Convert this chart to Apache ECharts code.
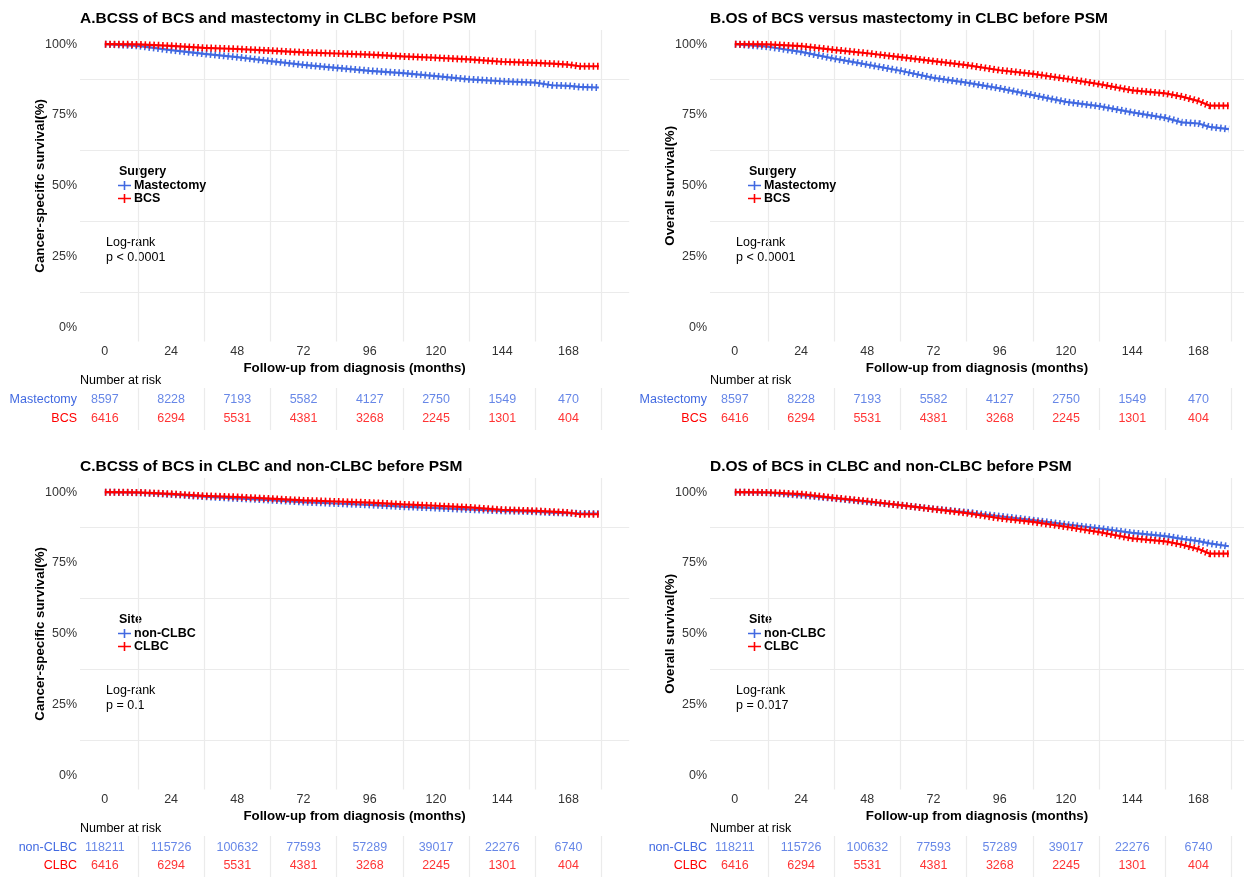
<!DOCTYPE html>
<html><head><meta charset="utf-8">
<script src="https://cdn.jsdelivr.net/npm/echarts@6/dist/echarts.min.js"></script>
<style>html,body{margin:0;padding:0;background:#fff}#c{width:1244px;height:877px}</style>
</head><body><div id="c"></div>
<script>
// ---- data ----
const timePts = [0, 12, 24, 36, 48, 60, 72, 84, 96, 108, 120, 132, 144, 156, 162, 168, 172, 179];
const clbcBcss    = [100, 99.9, 99.4, 98.7, 98.3, 97.7, 97.1, 96.7, 96.3, 95.7, 95.2, 94.6, 93.8, 93.4, 93.1, 92.8, 92.2, 92.2];
const mastBcss    = [100, 99.4, 97.9, 96.6, 95.4, 94.0, 92.7, 91.6, 90.6, 89.8, 88.7, 87.6, 86.9, 86.4, 85.5, 85.3, 84.9, 84.7];
const nonClbcBcss = [100, 99.8, 99.2, 98.4, 97.8, 97.2, 96.5, 96.0, 95.5, 94.9, 94.4, 93.9, 93.4, 93.1, 92.8, 92.6, 92.5, 92.4];
const clbcOs      = [100, 99.9, 99.3, 98.0, 96.8, 95.4, 94.0, 92.6, 90.8, 89.5, 87.8, 85.9, 83.7, 82.6, 81.5, 79.9, 78.3, 78.3];
const mastOs      = [100, 99.1, 97.3, 94.9, 92.8, 90.6, 88.1, 86.4, 84.4, 82.0, 79.6, 78.1, 75.9, 74.0, 72.4, 72.0, 70.8, 70.0];
const nonClbcOs   = [100, 99.8, 98.9, 97.8, 96.6, 95.4, 94.1, 92.9, 91.5, 90.1, 88.6, 87.2, 85.6, 84.5, 83.5, 82.7, 81.9, 80.9];

const riskTimes   = [0, 24, 48, 72, 96, 120, 144, 168];
const mastRisk    = [8597, 8228, 7193, 5582, 4127, 2750, 1549, 470];
const bcsRisk     = [6416, 6294, 5531, 4381, 3268, 2245, 1301, 404];
const nonClbcRisk = [118211, 115726, 100632, 77593, 57289, 39017, 22276, 6740];
const clbcRisk    = [6416, 6294, 5531, 4381, 3268, 2245, 1301, 404];

const gridTimes   = [12, 36, 60, 84, 108, 132, 156, 180];
const yTickVals   = [0, 25, 50, 75, 100];
const yGridVals   = [12.5, 37.5, 62.5, 87.5];

const panelTitles = ['A.BCSS of BCS and mastectomy in CLBC before PSM', 'B.OS of BCS versus mastectomy in CLBC before PSM',
                     'C.BCSS of BCS in CLBC and non-CLBC before PSM', 'D.OS of BCS in CLBC and non-CLBC before PSM'];
const yTitles     = ['Cancer-specific survival(%)', 'Overall survival(%)', 'Cancer-specific survival(%)', 'Overall survival(%)'];
const legendTitles = ['Surgery', 'Surgery', 'Site', 'Site'];
const groupNames  = [['Mastectomy', 'BCS'], ['Mastectomy', 'BCS'], ['non-CLBC', 'CLBC'], ['non-CLBC', 'CLBC']];
const pValues     = ['p < 0.0001', 'p < 0.0001', 'p = 0.1', 'p = 0.017'];
const curveSets   = [[mastBcss, clbcBcss], [mastOs, clbcOs], [nonClbcBcss, clbcBcss], [nonClbcOs, clbcOs]];
const riskSets    = [[mastRisk, bcsRisk], [mastRisk, bcsRisk], [nonClbcRisk, clbcRisk], [nonClbcRisk, clbcRisk]];
const xTitle = 'Follow-up from diagnosis (months)';
const riskTitle = 'Number at risk';
const testName = 'Log-rank';

// ---- styling / layout ----
const COLORS = ['#4169E1', '#FF0000'];
const FONT = '"Liberation Sans", Arial, sans-serif';
const GRIDC = '#ebebeb';
const DX = [0, 630, 0, 630], DY = [0, 0, 448, 448];
const X0 = 80, PT = 30, PH = 311.6, RT = 388, RH = 42;
const PXM = 2.76;              // pixels per month
const XMIN = -9;
const PWS = [549.2, 534, 549.2, 534];

const grids = [], xAxes = [], yAxes = [], series = [], legends = [], graphics = [];
const ICON = 'path://M0,4h13v1.6h-13z M5.7,0.3h1.6v9h-1.6z';

for (let i = 0; i < 4; i++) {
  const dx = DX[i], dy = DY[i];
  const PW = PWS[i];
  const XMAX = XMIN + PW / PXM;
  const g = grids.length;
  grids.push({ left: X0 + dx, top: PT + dy, width: PW, height: PH });
  grids.push({ left: X0 + dx, top: RT + dy, width: PW, height: RH });
  xAxes.push({
    gridIndex: g, type: 'value', min: XMIN, max: XMAX,
    axisLine: { show: false },
    axisTick: { show: false, customValues: gridTimes },
    axisLabel: { customValues: riskTimes, margin: 3, fontSize: 12.5, color: '#333', fontFamily: FONT },
    splitLine: { show: true, lineStyle: { color: GRIDC, width: 1.2 } },
    name: xTitle, nameLocation: 'middle', nameGap: 20, nameMoveOverlap: false,
    nameTextStyle: { fontSize: 13.3, fontWeight: 'bold', color: '#000', fontFamily: FONT }
  });
  yAxes.push({
    gridIndex: g, type: 'value', min: -5, max: 105,
    axisLine: { show: false },
    axisTick: { show: false, customValues: yGridVals },
    axisLabel: { customValues: yTickVals, formatter: v => v + '%', margin: 3, fontSize: 12.5, color: '#333', fontFamily: FONT },
    splitLine: { show: true, lineStyle: { color: GRIDC, width: 1.2 } },
    name: yTitles[i], nameLocation: 'middle', nameGap: 33, nameRotate: 90, nameMoveOverlap: false,
    nameTextStyle: { fontSize: 13.3, fontWeight: 'bold', color: '#000', fontFamily: FONT }
  });
  const names = groupNames[i];
  xAxes.push({
    gridIndex: g + 1, type: 'value', min: XMIN, max: XMAX,
    axisLine: { show: false },
    axisTick: { show: false, customValues: gridTimes },
    axisLabel: { show: false },
    splitLine: { show: true, lineStyle: { color: GRIDC, width: 1.2 } }
  });
  yAxes.push({
    gridIndex: g + 1, type: 'value', min: 0.4, max: 2.6, inverse: true,
    axisLine: { show: false },
    axisTick: { show: false, customValues: [1, 2] },
    axisLabel: {
      customValues: [1, 2], margin: 3, fontSize: 12.5, fontFamily: FONT,
      formatter: v => names[Number(v) - 1],
      color: v => COLORS[Number(v) - 1]
    },
    splitLine: { show: false }
  });
  for (let k = 0; k < 2; k++) {
    const data = timePts.map((t, j) => [t, curveSets[i][k][j]]);
    series.push({
      type: 'line', name: names[k], xAxisIndex: g, yAxisIndex: g, data,
      symbol: 'none', showSymbol: false, silent: true, z: 3 + k * 2,
      lineStyle: { color: COLORS[k], width: 2.2 }, itemStyle: { color: COLORS[k] }
    });
    series.push({
      type: 'line', name: names[k], xAxisIndex: g, yAxisIndex: g, data,
      symbol: 'none', showSymbol: false, silent: true, z: 4 + k * 2,
      lineStyle: { color: COLORS[k], width: 7, type: [1.6, 2.8], cap: 'butt' }, itemStyle: { color: COLORS[k] }
    });
    series.push({
      type: 'scatter', xAxisIndex: g + 1, yAxisIndex: g + 1, silent: true,
      symbolSize: 0,
      data: riskTimes.map((t, j) => [t, k + 1, riskSets[i][k][j]]),
      label: { show: true, position: 'inside', formatter: p => String(p.value[2]), color: COLORS[k], fontSize: 12.5, fontFamily: FONT }
    });
  }
  legends.push({
    orient: 'vertical', left: 113 + dx, top: 174 + dy, itemGap: 0, itemWidth: 13, itemHeight: 9,
    padding: 5, selectedMode: false,
    data: names.map(n => ({ name: n, icon: ICON })),
    textStyle: { fontSize: 12.5, fontWeight: 'bold', color: '#000', fontFamily: FONT, lineHeight: 12, padding: [0, 0, 0, -2] }
  });
  const txt = (x, y, text, size, bold) => ({
    type: 'text', left: x, top: y, silent: true,
    style: { text, fontSize: size, fontWeight: bold ? 'bold' : 'normal', fill: '#000', fontFamily: FONT, textVerticalAlign: 'top' }
  });
  graphics.push(txt(80 + dx, 11 + dy, panelTitles[i], 15.5, true));
  graphics.push(txt(119 + dx, 165 + dy, legendTitles[i], 12.5, true));
  graphics.push(txt(106 + dx, 236 + dy, testName, 12.5, false));
  graphics.push(txt(106 + dx, 251 + dy, pValues[i], 12.5, false));
  graphics.push(txt(80 + dx, 374 + dy, riskTitle, 12.5, false));
}

const chart = echarts.init(document.getElementById('c'));
chart.setOption({
  animation: false,
  backgroundColor: '#fff',
  textStyle: { fontFamily: FONT },
  grid: grids, xAxis: xAxes, yAxis: yAxes, series, legend: legends,
  graphic: graphics
});
</script>
</body></html>
